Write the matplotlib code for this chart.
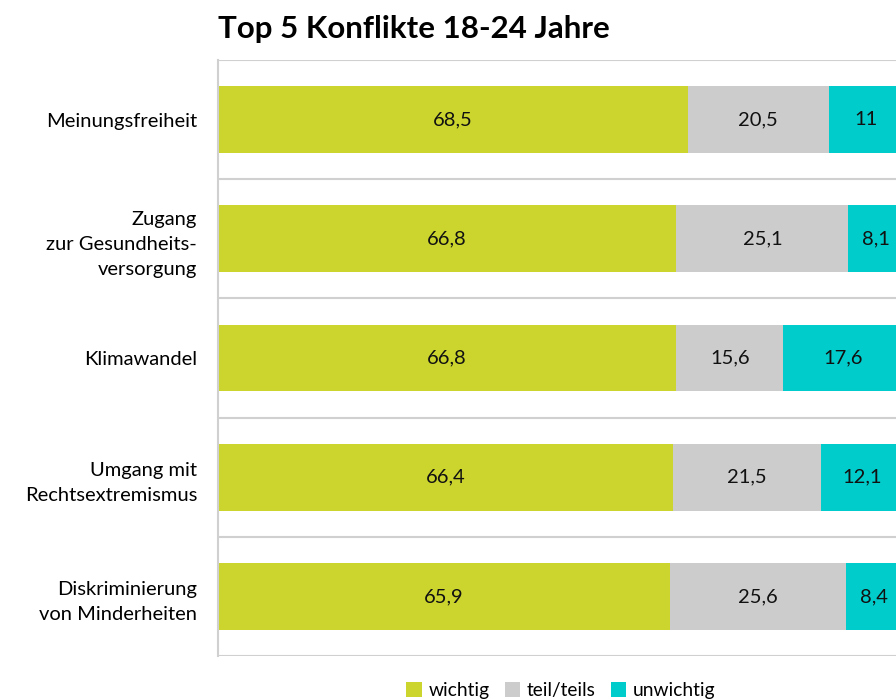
import numpy as np
import matplotlib
matplotlib.use("Agg")
import matplotlib.pyplot as plt
from matplotlib.patches import Patch

# Data
categories = [
    "Meinungsfreiheit",
    "Zugang\nzur Gesundheits-\nversorgung",
    "Klimawandel",
    "Umgang mit\nRechtsextremismus",
    "Diskriminierung\nvon Minderheiten",
]
wichtig = [68.5, 66.8, 66.8, 66.4, 65.9]
teils = [20.5, 25.1, 15.6, 21.5, 25.6]
unwichtig = [11, 8.1, 17.6, 12.1, 8.4]

series_names = ["wichtig", "teil/teils", "unwichtig"]
colors = ["#CBD52D", "#CCCCCC", "#00CCCC"]

plt.rcParams["font.family"] = ["Lato", "DejaVu Sans"]

fig = plt.figure(figsize=(8.96, 6.99), dpi=100)
ax = fig.add_axes([0.2433, 0.0615, 0.7656, 0.8526])

y = np.arange(len(categories))
left = np.zeros(len(categories))
for vals, col in zip([wichtig, teils, unwichtig], colors):
    vals = np.array(vals, dtype=float)
    bars = ax.barh(y, vals, left=left, height=0.56, color=col, edgecolor="none")
    for b, v in zip(bars, vals):
        ax.text(b.get_x() + b.get_width() / 2, b.get_y() + b.get_height() / 2,
                f"{v:g}".replace(".", ","), ha="center", va="center",
                fontsize=14.5, color="#111111")
    left += vals

ax.set_xlim(0, 100)
ax.set_ylim(len(categories) - 0.5, -0.5)
ax.set_yticks(y)
ax.set_yticklabels(categories, fontsize=14.5, linespacing=1.6)
ax.set_xticks([])
ax.tick_params(axis="y", length=0, pad=15)

ax.set_yticks(np.arange(-0.5, len(categories)), minor=True)
ax.tick_params(axis="y", which="minor", length=0)
ax.grid(axis="y", which="minor", color="#D0D0D0", linewidth=1.5)
ax.set_axisbelow(True)

for s in ["top", "right", "bottom"]:
    ax.spines[s].set_visible(False)
ax.spines["left"].set_color("#D0D0D0")
ax.spines["left"].set_linewidth(1.5)

fig.text(0.2433, 0.958, "Top 5 Konflikte 18-24 Jahre", fontsize=22.5,
         fontweight="bold", ha="left", va="center")

handles = [Patch(facecolor=c, edgecolor="none") for c in colors]
fig.legend(handles, series_names, loc="center", bbox_to_anchor=(0.626, 0.012),
           ncol=3, frameon=False, fontsize=13.8, handlelength=0.8, handleheight=0.8,
           handletextpad=0.35, columnspacing=0.8)

fig.savefig("out.png", dpi=100)
